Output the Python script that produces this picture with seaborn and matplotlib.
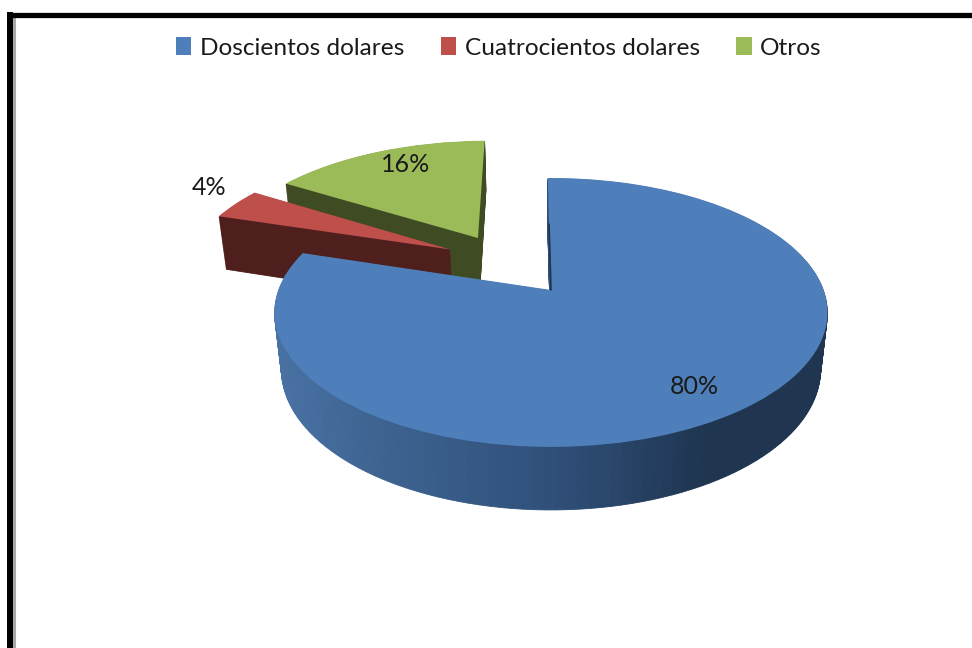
"""
Exploded 3D style pie, walls are stacked pies seen through a perspective transform
"""
import numpy as np
import matplotlib
matplotlib.use('Agg')
import matplotlib.pyplot as plt
import seaborn as sns
from matplotlib.colors import LinearSegmentedColormap
from matplotlib.patches import Patch
from matplotlib.transforms import Transform

labels = ['Doscientos dolares', 'Cuatrocientos dolares', 'Otros']
values = [80, 4, 16]
top_colors = ['#4F7FBB', '#BE4F4B', '#9BBB59']
wall_colors = ['#1F3550', '#4E1F1D', '#3F4B22']
blue_wall = ['#4A74A6', '#3D628F', '#30507A', '#1F3550', '#1F3550']

sns.set_theme(style='white')
plt.rcParams['font.family'] = ['Lato', 'DejaVu Sans']

START = 90.8
N_STACK = 60
N_SHADE = 144


class Tilt(Transform):
    # flat pie plane to screen pixels, level 0 is the top face and 1 the floor
    input_dims = 2
    output_dims = 2

    def __init__(self, level=0.0):
        super().__init__()
        self.level = level

    def transform_non_affine(self, xy):
        xy = np.asarray(xy)
        w = 1 + 0.167 * xy[:, 1] + 0.025 * self.level
        return np.column_stack([272.6 * xy[:, 0] / w, (130.7 * xy[:, 1] - 58 * self.level) / w])


fig = plt.figure(figsize=(9.72, 6.48), dpi=100)

# black frame, only the left and top sides are in the picture
frame = fig.add_axes([9.5 / 972, 0, 1, (648 - 14.5) / 648])
frame.set_xticks([])
frame.set_yticks([])
sns.despine(ax=frame, top=False, right=True, bottom=True)
frame.spines['left'].set(color='black', linewidth=4.3)
frame.spines['top'].set(color='black', linewidth=3.8)
frame.axvline(4.8 / 972, color='#A8A8A8', lw=2.2, ymax=0.994)

ax = fig.add_axes([0, 0, 1, 1])
ax.patch.set_alpha(0)


def draw_slice(sizes, colors, center, level, edge=False, radius=1):
    wedges, _ = ax.pie(sizes, colors=colors, center=center, startangle=START, radius=radius,
                       counterclock=False, wedgeprops={'linewidth': 0.6 if edge else 0})
    for w in wedges:
        w.set_transform(Tilt(level) + ax.transData)
        if edge:
            w.set_edgecolor(w.get_facecolor())
    return wedges


def only(i, color):
    return [color if j == i else 'none' for j in range(len(values))]


# green and red sit further back, so they go first
for i, center, radius in [(2, (-0.287, 0.426), 0.985), (1, (-0.39, 0.327), 1)]:
    for d in np.linspace(1, 0, N_STACK)[:-1]:
        draw_slice(values, only(i, wall_colors[i]), center, d, edge=True, radius=radius)
    draw_slice(values, only(i, top_colors[i]), center, 0, radius=radius)

# blue wall is split in small steps so it can be shaded left to right
shade = LinearSegmentedColormap.from_list('wall', blue_wall)
step = values[0] / N_SHADE
mids = np.radians(START - (np.arange(N_SHADE) + 0.5) * step * 3.6)
steps = [step] * N_SHADE + [sum(values[1:])]
step_colors = [shade((np.cos(m) + 1) / 2) for m in mids] + ['none']
for d in np.linspace(1, 0, N_STACK)[:-1]:
    draw_slice(steps, step_colors, (0, 0), d, edge=True)
draw_slice(values, only(0, top_colors[0]), (0, 0), 0)

# thin sliver of the inner wall on the upper edge
edge_angle = np.radians(START)
ax.plot([0, 0.55 * np.cos(edge_angle)], [0, 0.55 * np.sin(edge_angle)], color=wall_colors[0],
        lw=1.2, transform=Tilt(0) + ax.transData)

ax.set_aspect('auto')
ax.set_xlim(-551, 421)
ax.set_ylim(-358, 290)
ax.set_axis_off()

for value, (px, py) in zip(values, [(694, 386), (209, 187), (406, 165)]):
    fig.text(px / 972, 1 - py / 648, f'{value}%', ha='center', va='center', fontsize=18, color='#1A1A1A')

handles = [Patch(facecolor=c, linewidth=0) for c in top_colors]
fig.legend(handles, labels, loc='center', bbox_to_anchor=(499 / 972, 1 - 48 / 648), ncol=3, frameon=False,
           fontsize=17.6, handlelength=0.62, handleheight=0.75, handletextpad=0.35, columnspacing=1.5,
           labelcolor='#1A1A1A')

plt.savefig('out.png', dpi=100)
plt.close()
